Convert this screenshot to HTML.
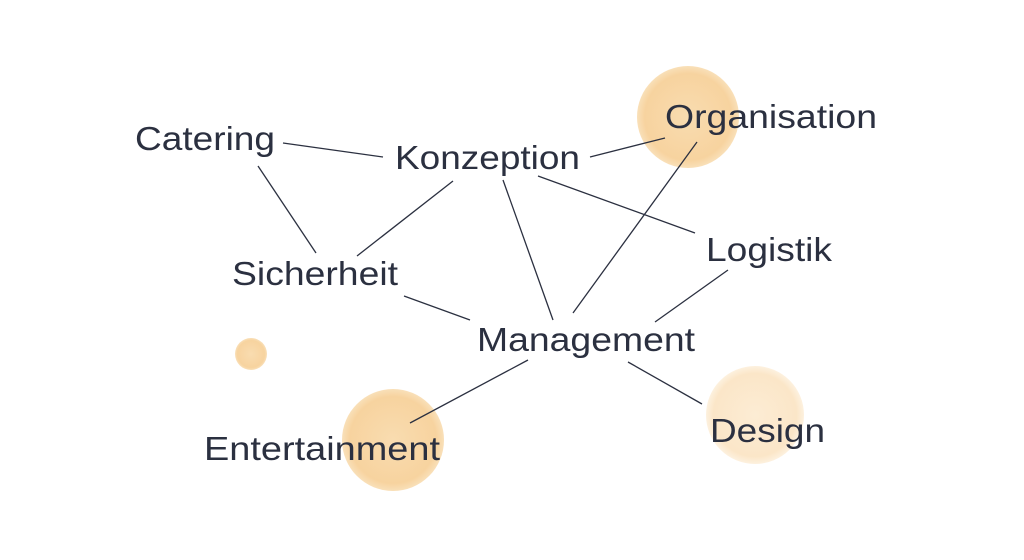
<!DOCTYPE html>
<html><head><meta charset="utf-8"><style>
html,body{margin:0;padding:0;background:#fff;}
svg{display:block;}
text{font-family:"Liberation Sans",sans-serif;font-size:33px;fill:#2b3040;}
</style></head><body>
<svg width="1024" height="560" viewBox="0 0 1024 560">
<defs>
<radialGradient id="g1" cx="50%" cy="50%" r="50%">
<stop offset="0%" stop-color="#f9dcb0"/><stop offset="85%" stop-color="#f7d39f"/><stop offset="100%" stop-color="#f9e0b9"/>
</radialGradient>
<radialGradient id="g2" cx="50%" cy="50%" r="50%">
<stop offset="0%" stop-color="#fcecd4"/><stop offset="85%" stop-color="#fbe6c8"/><stop offset="100%" stop-color="#fdf1df"/>
</radialGradient>
</defs>
<circle cx="688" cy="117" r="51" fill="url(#g1)"/>
<circle cx="393" cy="440" r="51" fill="url(#g1)"/>
<circle cx="755" cy="415" r="49" fill="url(#g2)"/>
<circle cx="251" cy="354" r="16" fill="url(#g1)"/>
<g stroke="#2b3040" stroke-width="1.3">
<line x1="283" y1="143" x2="383" y2="157"/>
<line x1="258" y1="166" x2="316" y2="253"/>
<line x1="453" y1="181" x2="357" y2="256"/>
<line x1="404" y1="296" x2="470" y2="320"/>
<line x1="503" y1="180" x2="553" y2="320"/>
<line x1="590" y1="157" x2="665" y2="138"/>
<line x1="538" y1="176" x2="695" y2="233"/>
<line x1="697" y1="142" x2="573" y2="313"/>
<line x1="728" y1="270" x2="655" y2="322"/>
<line x1="528" y1="360" x2="410" y2="423"/>
<line x1="628" y1="362" x2="702" y2="404"/>
</g>
<text x="135" y="150" textLength="140" lengthAdjust="spacingAndGlyphs">Catering</text>
<text x="395" y="169" textLength="185" lengthAdjust="spacingAndGlyphs">Konzeption</text>
<text x="665" y="128" textLength="212" lengthAdjust="spacingAndGlyphs">Organisation</text>
<text x="706" y="261" textLength="126" lengthAdjust="spacingAndGlyphs">Logistik</text>
<text x="232" y="285" textLength="166" lengthAdjust="spacingAndGlyphs">Sicherheit</text>
<text x="477" y="351" textLength="218" lengthAdjust="spacingAndGlyphs">Management</text>
<text x="204" y="460" textLength="236" lengthAdjust="spacingAndGlyphs">Entertainment</text>
<text x="710" y="442" textLength="115" lengthAdjust="spacingAndGlyphs">Design</text>
</svg>
</body></html>
